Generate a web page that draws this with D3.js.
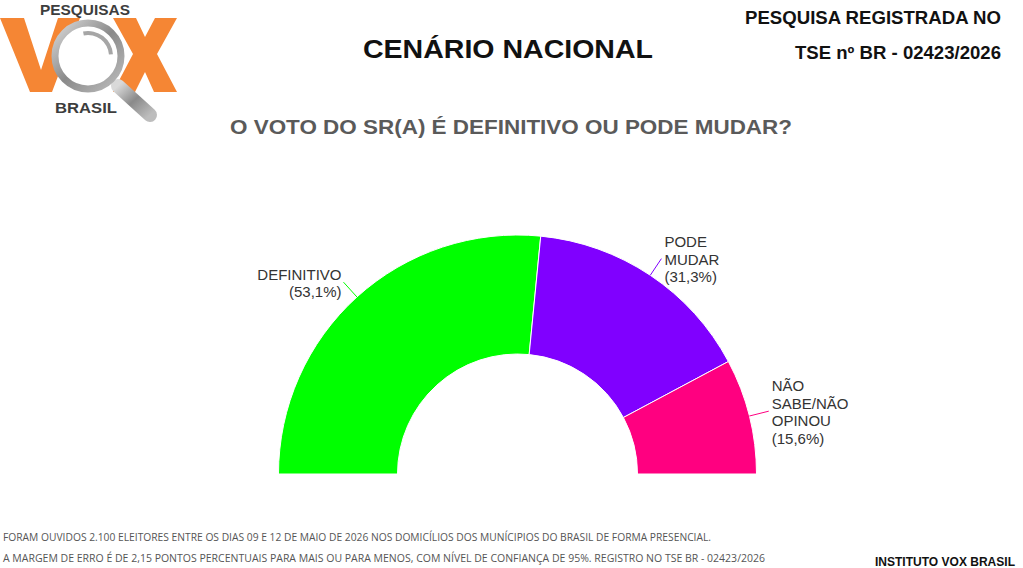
<!DOCTYPE html>
<html>
<head>
<meta charset="utf-8">
<script src="https://cdn.jsdelivr.net/npm/d3@7"></script>
<style>
  body { margin: 0; background: #fff; }
  svg { display: block; font-family: "Liberation Sans", Arial, sans-serif; }
</style>
</head>
<body>
<div id="chart"></div>
<script>
// data
var categories = ["DEFINITIVO", "PODE MUDAR", "NÃO SABE/NÃO OPINOU"];
var labelLines = [["DEFINITIVO"], ["PODE", "MUDAR"], ["NÃO", "SABE/NÃO", "OPINOU"]];
var values = [53.1, 31.3, 15.6];
var palette = ["#00ff00", "#8000ff", "#ff0080"];

var width = 1023, height = 568;

var svg = d3.select("#chart")
  .append("svg")
    .attr("width", width)
    .attr("height", height);

// ---- logo
var logo = svg.append("g");
var grad = svg.append("defs").append("linearGradient")
  .attr("id", "steel").attr("x1", "0").attr("y1", "0").attr("x2", "1").attr("y2", "1");
grad.append("stop").attr("offset", "0%").attr("stop-color", "#d9d9d9");
grad.append("stop").attr("offset", "50%").attr("stop-color", "#8a8a8a");
grad.append("stop").attr("offset", "100%").attr("stop-color", "#bdbdbd");

logo.append("polygon")
  .attr("points", "0,18 24,18 41,70 58,18 80,18 52,92 30,92")
  .attr("fill", "#f58634");
logo.append("polygon")
  .attr("points", "113,18 136,18 145,37 155,18 177,18 157,54 177,92 154,92 145,72 135,92 113,92 133,54")
  .attr("fill", "#f58634");
logo.append("line")
  .attr("x1", 118).attr("y1", 86).attr("x2", 150).attr("y2", 115)
  .attr("stroke", "url(#steel)").attr("stroke-width", 14).attr("stroke-linecap", "round");
logo.append("circle")
  .attr("cx", 88).attr("cy", 56).attr("r", 33)
  .attr("fill", "#fff").attr("stroke", "url(#steel)").attr("stroke-width", 7);
logo.append("path")
  .attr("d", d3.arc()({innerRadius: 21, outerRadius: 25, startAngle: -0.2, endAngle: 1.5}))
  .attr("transform", "translate(88,56)")
  .attr("fill", "#a6a6a6");
logo.append("text")
  .attr("x", 85).attr("y", 15)
  .attr("text-anchor", "middle")
  .attr("font-size", 15).attr("font-weight", "bold").attr("fill", "#3d3d3d")
  .attr("textLength", 90).attr("lengthAdjust", "spacingAndGlyphs")
  .text("PESQUISAS");
logo.append("text")
  .attr("x", 86).attr("y", 113)
  .attr("text-anchor", "middle")
  .attr("font-size", 15).attr("font-weight", "bold").attr("fill", "#3d3d3d")
  .attr("textLength", 62).attr("lengthAdjust", "spacingAndGlyphs")
  .text("BRASIL");

// ---- titles
svg.append("text")
  .attr("x", 508).attr("y", 58)
  .attr("text-anchor", "middle")
  .attr("font-size", 25).attr("font-weight", "bold").attr("fill", "#111")
  .attr("textLength", 290).attr("lengthAdjust", "spacingAndGlyphs")
  .text("CENÁRIO NACIONAL");

svg.append("text")
  .attr("x", 511).attr("y", 134)
  .attr("text-anchor", "middle")
  .attr("font-size", 21).attr("font-weight", "bold").attr("fill", "#5a5a5a")
  .attr("textLength", 562).attr("lengthAdjust", "spacingAndGlyphs")
  .text("O VOTO DO SR(A) É DEFINITIVO OU PODE MUDAR?");

svg.append("text")
  .attr("x", 1001).attr("y", 24)
  .attr("text-anchor", "end")
  .attr("font-size", 18).attr("font-weight", "bold").attr("fill", "#111")
  .attr("textLength", 256).attr("lengthAdjust", "spacingAndGlyphs")
  .text("PESQUISA REGISTRADA NO");
svg.append("text")
  .attr("x", 1001).attr("y", 59)
  .attr("text-anchor", "end")
  .attr("font-size", 18).attr("font-weight", "bold").attr("fill", "#111")
  .attr("textLength", 206).attr("lengthAdjust", "spacingAndGlyphs")
  .text("TSE nº BR - 02423/2026");

// ---- semi donut
var cx = 517.5, cy = 474, outerR = 239, innerR = 120;

var color = d3.scaleOrdinal().domain(categories).range(palette);

var pie = d3.pie()
  .sort(null)
  .startAngle(-Math.PI / 2)
  .endAngle(Math.PI / 2)
  .value(function(d) { return d.value; });

var data = categories.map(function(c, i) { return {name: c, value: values[i], lines: labelLines[i]}; });
var arcs = pie(data);

var arc = d3.arc().innerRadius(innerR).outerRadius(outerR);

var g = svg.append("g").attr("transform", "translate(" + cx + "," + cy + ")");

g.selectAll(".slice")
  .data(arcs)
  .enter().append("path")
    .attr("class", "slice")
    .attr("d", arc)
    .attr("fill", function(d) { return color(d.data.name); })
    .attr("stroke", "#fff")
    .attr("stroke-width", 1);

// connectors + labels
var fmt = function(v) { return "(" + d3.format(".1f")(v).replace(".", ",") + "%)"; };
var lineH = 17.5;

arcs.forEach(function(d) {
  var a = (d.startAngle + d.endAngle) / 2;
  var p1 = [Math.sin(a) * outerR, -Math.cos(a) * outerR];
  var p2 = [Math.sin(a) * (outerR + 20), -Math.cos(a) * (outerR + 20)];
  var right = Math.sin(a) > 0;

  g.append("line")
    .attr("x1", p1[0]).attr("y1", p1[1])
    .attr("x2", p2[0]).attr("y2", p2[1])
    .attr("stroke", color(d.data.name))
    .attr("stroke-width", 1);

  var lines = d.data.lines.concat([fmt(d.data.value)]);
  var top = p2[1] + 2 - (lines.length * lineH) / 2;
  var t = g.append("text")
    .attr("text-anchor", right ? "start" : "end")
    .attr("font-size", 15)
    .attr("fill", "#333");
  lines.forEach(function(l, i) {
    t.append("tspan")
      .attr("x", p2[0] + (right ? 3 : -2))
      .attr("y", top + i * lineH + 13)
      .text(l);
  });
});

// ---- footer
svg.append("text")
  .attr("x", 3).attr("y", 541)
  .attr("font-family", "'Open Sans', sans-serif")
  .attr("font-size", 10).attr("fill", "#555")
  .attr("textLength", 708).attr("lengthAdjust", "spacingAndGlyphs")
  .text("FORAM OUVIDOS 2.100 ELEITORES ENTRE OS DIAS 09 E 12 DE MAIO DE 2026 NOS DOMICÍLIOS DOS MUNÍCIPIOS DO BRASIL DE FORMA PRESENCIAL.");
svg.append("text")
  .attr("x", 3).attr("y", 562)
  .attr("font-family", "'Open Sans', sans-serif")
  .attr("font-size", 10).attr("fill", "#555")
  .attr("textLength", 762).attr("lengthAdjust", "spacingAndGlyphs")
  .text("A MARGEM DE ERRO É DE 2,15 PONTOS PERCENTUAIS PARA MAIS OU PARA MENOS, COM NÍVEL DE CONFIANÇA DE 95%. REGISTRO NO TSE BR - 02423/2026");
svg.append("text")
  .attr("x", 1015).attr("y", 566)
  .attr("text-anchor", "end")
  .attr("font-size", 12).attr("font-weight", "bold").attr("fill", "#111")
  .attr("textLength", 140).attr("lengthAdjust", "spacingAndGlyphs")
  .text("INSTITUTO VOX BRASIL");
</script>
</body>
</html>
